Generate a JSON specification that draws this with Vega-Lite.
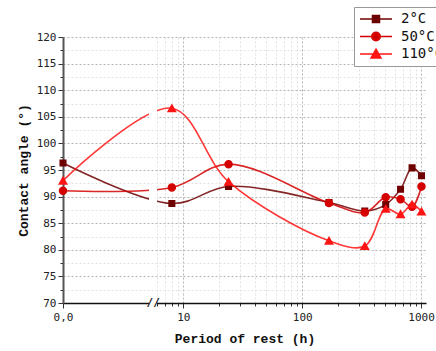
{
  "$schema": "https://vega.github.io/schema/vega-lite/v6.json",
  "width": 363,
  "height": 266,
  "autosize": {"type": "none"},
  "padding": {"left": 63, "top": 37, "right": 10, "bottom": 48},
  "background": "white",
  "config": {
    "view": {"stroke": null},
    "axis": {
      "labelFont": "DejaVu Sans Mono",
      "labelFontSize": 11,
      "labelColor": "#222",
      "titleFont": "Liberation Mono",
      "titleFontSize": 13,
      "titleFontWeight": "bold",
      "titleColor": "#111",
      "tickColor": "#333",
      "gridDash": [2, 2],
      "labelOverlap": false,
      "labelFlush": false
    },
    "axisX": {
      "titlePadding": 10,
      "labelExpr": "datum.value === 0 ? '0,0' : (datum.value === 10 || datum.value === 100 || datum.value === 1000) ? '' + datum.value : ''",
      "tickSize": {"condition": {"test": "datum.value === 0 || datum.value === 10 || datum.value === 100 || datum.value === 1000", "value": 5}, "value": 3},
      "gridColor": {"condition": {"test": "datum.value === 10 || datum.value === 100 || datum.value === 1000", "value": "#b5b5b5"}, "value": "#e2e2e2"},
      "domainColor": "#111",
      "domainWidth": 1.5,
      "labelPadding": 3
    },
    "axisY": {
      "titlePadding": 6,
      "labelExpr": "datum.value % 5 === 0 ? '' + datum.value : ''",
      "tickSize": {"condition": {"test": "datum.value % 5 === 0", "value": 5}, "value": 3},
      "gridColor": {"condition": {"test": "datum.value % 5 === 0", "value": "#b5b5b5"}, "value": "#e2e2e2"},
      "domainColor": "#555",
      "domainWidth": 2,
      "labelPadding": 2
    },
    "legend": {
      "title": null,
      "orient": "none",
      "legendX": 291,
      "legendY": -30,
      "fillColor": "white",
      "strokeColor": "#999",
      "padding": 5,
      "labelFont": "DejaVu Sans Mono",
      "labelFontSize": 14,
      "labelColor": "#111",
      "labelOffset": 8,
      "symbolSize": 1024,
      "symbolStrokeWidth": 1.5,
      "symbolOpacity": 1,
      "clipHeight": 14,
      "rowPadding": 3.5
    }
  },
  "layer": [
    {
      "data": {
        "values": [
          {"hours": 0, "angle": 96.3, "series": "2°C"},
          {"hours": 8, "angle": 88.7, "series": "2°C"},
          {"hours": 24, "angle": 91.9, "series": "2°C"},
          {"hours": 168, "angle": 88.9, "series": "2°C"},
          {"hours": 336, "angle": 87.3, "series": "2°C"},
          {"hours": 504, "angle": 88.5, "series": "2°C"},
          {"hours": 672, "angle": 91.4, "series": "2°C"},
          {"hours": 840, "angle": 95.4, "series": "2°C"},
          {"hours": 1008, "angle": 93.9, "series": "2°C"},
          {"hours": 0, "angle": 91.1, "series": "50°C"},
          {"hours": 8, "angle": 91.7, "series": "50°C"},
          {"hours": 24, "angle": 96.1, "series": "50°C"},
          {"hours": 168, "angle": 88.8, "series": "50°C"},
          {"hours": 336, "angle": 87.0, "series": "50°C"},
          {"hours": 504, "angle": 89.9, "series": "50°C"},
          {"hours": 672, "angle": 89.5, "series": "50°C"},
          {"hours": 840, "angle": 88.1, "series": "50°C"},
          {"hours": 1008, "angle": 91.9, "series": "50°C"},
          {"hours": 0, "angle": 93.0, "series": "110°C"},
          {"hours": 8, "angle": 106.6, "series": "110°C"},
          {"hours": 24, "angle": 92.8, "series": "110°C"},
          {"hours": 168, "angle": 81.7, "series": "110°C"},
          {"hours": 336, "angle": 80.7, "series": "110°C"},
          {"hours": 504, "angle": 87.7, "series": "110°C"},
          {"hours": 672, "angle": 86.7, "series": "110°C"},
          {"hours": 840, "angle": 88.5, "series": "110°C"},
          {"hours": 1008, "angle": 87.2, "series": "110°C"}
        ]
      },
      "encoding": {
        "x": {
          "field": "hours",
          "type": "quantitative",
          "scale": {"type": "symlog", "constant": 0.001, "domain": [0, 5, 6, 1100], "range": [0, 86, 94, 363], "nice": false, "zero": false},
          "axis": {
            "title": "Period of rest (h)",
            "values": [0, 6, 7, 8, 9, 10, 20, 30, 40, 50, 60, 70, 80, 90, 100, 200, 300, 400, 500, 600, 700, 800, 900, 1000]
          }
        },
        "y": {
          "field": "angle",
          "type": "quantitative",
          "scale": {"domain": [70, 120], "nice": false, "zero": false},
          "axis": {
            "title": "Contact angle (°)",
            "values": [70, 72.5, 75, 77.5, 80, 82.5, 85, 87.5, 90, 92.5, 95, 97.5, 100, 102.5, 105, 107.5, 110, 112.5, 115, 117.5, 120]
          }
        },
        "stroke": {
          "field": "series",
          "type": "nominal",
          "scale": {"domain": ["2°C", "50°C", "110°C"], "range": ["#6e0000", "#d40000", "#ff1414"]}
        }
      },
      "layer": [
        {"mark": {"type": "line", "interpolate": "catmull-rom", "strokeWidth": 1.6, "opacity": 0.85}},
        {
          "mark": {"type": "point", "filled": true, "size": 1024, "strokeWidth": 0, "opacity": 1},
          "encoding": {
            "fill": {
              "field": "series",
              "type": "nominal",
              "scale": {"domain": ["2°C", "50°C", "110°C"], "range": ["#6e0000", "#d40000", "#ff1414"]}
            },
            "shape": {
              "field": "series",
              "type": "nominal",
              "scale": {
                "domain": ["2°C", "50°C", "110°C"],
                "range": [
                  "M-1,0H1M-0.22,-0.22H0.22V0.22H-0.22Z",
                  "M-1,0H1M-0.265,0A0.265,0.265,0,1,0,0.265,0A0.265,0.265,0,1,0,-0.265,0Z",
                  "M-1,0H1M0,-0.3L0.31,0.25H-0.31Z"
                ]
              }
            }
          }
        }
      ]
    },
    {
      "data": {"values": [{}]},
      "mark": {"type": "rect", "fill": "white"},
      "encoding": {
        "x": {"datum": 5, "type": "quantitative", "axis": {"title": "Period of rest (h)", "values": [0, 6, 7, 8, 9, 10, 20, 30, 40, 50, 60, 70, 80, 90, 100, 200, 300, 400, 500, 600, 700, 800, 900, 1000]}},
        "x2": {"datum": 6},
        "y": {"datum": 88.2, "type": "quantitative", "axis": {"title": "Contact angle (°)", "values": [70, 72.5, 75, 77.5, 80, 82.5, 85, 87.5, 90, 92.5, 95, 97.5, 100, 102.5, 105, 107.5, 110, 112.5, 115, 117.5, 120]}},
        "y2": {"datum": 92.4}
      }
    },
    {
      "data": {"values": [{}]},
      "mark": {"type": "rect", "fill": "white"},
      "encoding": {
        "x": {"datum": 5, "type": "quantitative", "axis": {"title": "Period of rest (h)", "values": [0, 6, 7, 8, 9, 10, 20, 30, 40, 50, 60, 70, 80, 90, 100, 200, 300, 400, 500, 600, 700, 800, 900, 1000]}},
        "x2": {"datum": 6},
        "y": {"datum": 104, "type": "quantitative", "axis": {"title": "Contact angle (°)", "values": [70, 72.5, 75, 77.5, 80, 82.5, 85, 87.5, 90, 92.5, 95, 97.5, 100, 102.5, 105, 107.5, 110, 112.5, 115, 117.5, 120]}},
        "y2": {"datum": 107.6}
      }
    },
    {
      "data": {"values": [{}]},
      "mark": {"type": "rect", "fill": "white"},
      "encoding": {
        "x": {"datum": 5, "type": "quantitative", "axis": {"title": "Period of rest (h)", "values": [0, 6, 7, 8, 9, 10, 20, 30, 40, 50, 60, 70, 80, 90, 100, 200, 300, 400, 500, 600, 700, 800, 900, 1000]}},
        "x2": {"datum": 6},
        "y": {"datum": 69.4, "type": "quantitative", "axis": {"title": "Contact angle (°)", "values": [70, 72.5, 75, 77.5, 80, 82.5, 85, 87.5, 90, 92.5, 95, 97.5, 100, 102.5, 105, 107.5, 110, 112.5, 115, 117.5, 120]}},
        "y2": {"datum": 70.6}
      }
    },
    {
      "data": {"values": [{}]},
      "mark": {"type": "text", "text": "//", "font": "DejaVu Sans Mono", "fontSize": 11, "fontWeight": "bold", "color": "#111", "baseline": "middle", "align": "center"},
      "encoding": {
        "x": {"datum": 5.5, "type": "quantitative", "axis": {"title": "Period of rest (h)", "values": [0, 6, 7, 8, 9, 10, 20, 30, 40, 50, 60, 70, 80, 90, 100, 200, 300, 400, 500, 600, 700, 800, 900, 1000]}},
        "y": {"datum": 70, "type": "quantitative", "axis": {"title": "Contact angle (°)", "values": [70, 72.5, 75, 77.5, 80, 82.5, 85, 87.5, 90, 92.5, 95, 97.5, 100, 102.5, 105, 107.5, 110, 112.5, 115, 117.5, 120]}}
      }
    }
  ]
}
